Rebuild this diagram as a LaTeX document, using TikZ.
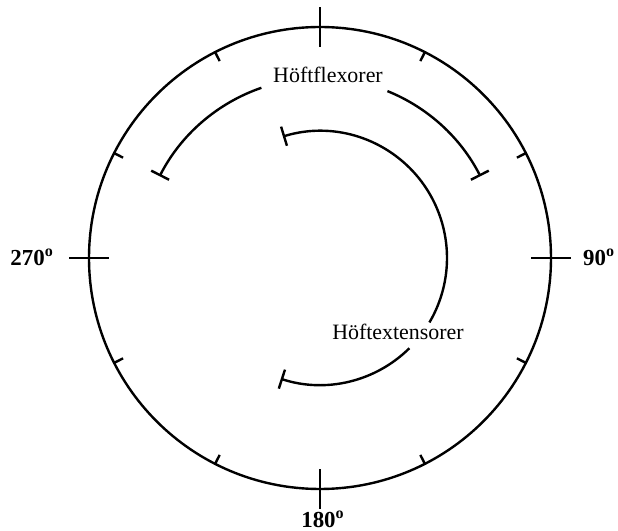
\documentclass[tikz,border=0pt]{standalone}
\usepackage{fontspec}
\setmainfont{Liberation Serif}
\usetikzlibrary{arrows.meta}
\tikzset{%
  tipE/.tip={Bar[width=10bp]},
  lbl/.style={inner sep=0pt,font=\fontsize{11}{13}\selectfont},
  deg/.style={inner sep=0pt,font=\fontsize{11.5}{13}\selectfont\bfseries}
}

\begin{document}
\begin{tikzpicture}[x=0.5bp,y=0.5bp,line width=1.2bp]
\useasboundingbox (-320,-273) rectangle (298,258);
\draw (0,0) circle (231);
% main ticks
\foreach \a in {0,90,180,270} \draw (\a:211) -- (\a:251);
% small ticks
\foreach \a in {27,63,117,153,207,243,297,333} \draw (\a:221) -- (\a:231);
% flexors
\draw[tipE-] (153:180) arc[start angle=153, end angle=109, radius=180];
\draw[-tipE] (68:180) arc[start angle=68, end angle=27, radius=180];
% extensors
\draw[tipE-] (107:127) arc[start angle=107, end angle=-30.5, radius=127];
\draw[-tipE] (-45.3:127) arc[start angle=-45.3, end angle=-108, radius=127];
\node[lbl] (flex) at (8,183) {Höftflexorer};
\node[lbl] (ext) at (78,-74) {Höftextensorer};
\node[deg, anchor=east] (d270) at (-265,1) {270\textsuperscript{o}};
\node[deg, anchor=west] (d90) at (262,1) {90\textsuperscript{o}};
\node[deg, anchor=north] (d180) at (3,-252) {180\textsuperscript{o}};
\end{tikzpicture}
\end{document}
